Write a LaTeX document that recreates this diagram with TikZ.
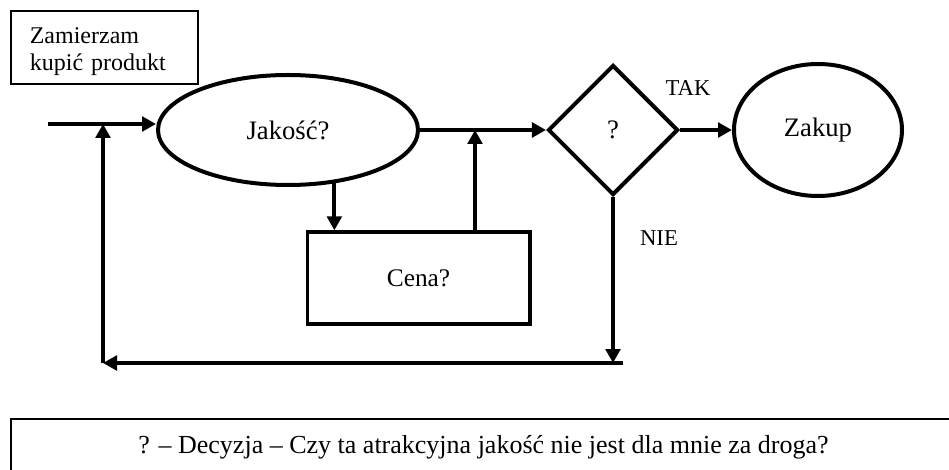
\documentclass[tikz,border=0pt]{standalone}
\usepackage{fontspec}
\setmainfont{Liberation Serif}
\usetikzlibrary{arrows.meta,shapes.geometric}

\begin{document}
\begin{tikzpicture}[
  x=0.75pt, y=-0.75pt,
  shp/.style={draw, line width=3pt, inner sep=0pt, font=\fontsize{20}{24}\selectfont},
  oval/.style={shp, ellipse},
  lbl/.style={font=\fontsize{17}{20}\selectfont},
  arr/.style={-{Triangle[length=10.5pt,width=11pt]}, line width=3pt}
]
\clip (0,0) rectangle (949,470);
\node[draw, line width=1.5pt, anchor=north west, minimum width=140.25pt, minimum height=54.75pt,
      text width=112pt, text height=18pt, align=left, font=\fontsize{18}{20}\selectfont] (start) at (10,10) {Zamierzam\\kupić produkt};
\node[oval, minimum width=195pt, minimum height=82.5pt] (jak) at (288,130) {Jakość?};
\node[shp, diamond, minimum width=97.5pt, minimum height=97.5pt] (dec) at (613,130) {?};
\node[oval, minimum width=126pt, minimum height=99pt] (zak) at (818,130) {Zakup};
\node[shp, line width=2.5pt, minimum width=167pt, minimum height=69pt, font=\fontsize{19}{22}\selectfont] (cena) at (418.5,278) {Cena?};
\node[lbl] (tak) at (688,88) {TAK};
\node[lbl] (nie) at (659,238) {NIE};
\node[draw, line width=1.5pt, anchor=north west, minimum width=708.75pt, minimum height=42.75pt,
      font=\fontsize{19.5}{22}\selectfont] (leg) at (10,418) {? -- Decyzja -- Czy ta atrakcyjna jakość nie jest dla mnie za droga?};

\coordinate (in) at (48,124);
\coordinate (j) at (475,130);
\coordinate (br) at (623,363);
\coordinate (bl) at (103,363);

\draw[arr] (in) -- (in -| jak.west);
\draw[arr] (jak) -- (dec);
\draw[arr] (dec) -- (zak);
\draw[arr] (jak.311) -- (jak.311 |- cena.north);
\draw[arr] (j |- cena.north) -- (j);
\draw[arr] (dec) -- (dec |- br);
\draw[arr] (br) -- (bl);
\draw[arr] (bl) -- (bl |- in);
\end{tikzpicture}
\end{document}
